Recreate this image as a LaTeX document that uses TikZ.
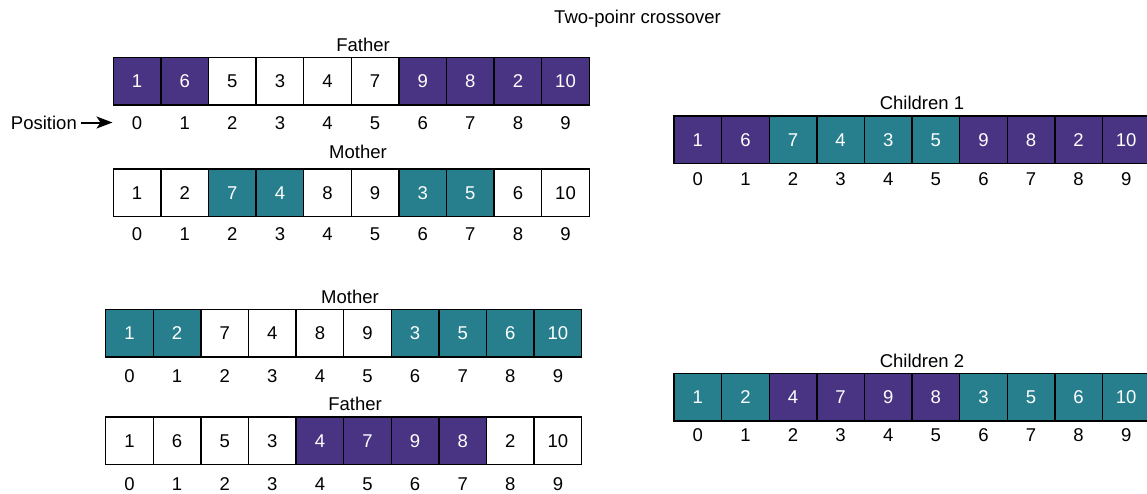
\documentclass[tikz,border=0pt]{standalone}
\usepackage{fontspec}
\setmainfont{Liberation Sans}
\usetikzlibrary{arrows.meta}

\definecolor{gpurple}{RGB}{72,52,130}
\definecolor{gteal}{RGB}{39,127,142}

\newcommand\genefont{\fontsize{18.5}{22}\selectfont}

\tikzset{
  txt/.style={inner sep=0pt, font=\genefont, text height=13.3pt, text depth=0pt},
  cell/.style={txt, draw=black, line width=1.4pt, minimum width=47.6pt, minimum height=47.6pt},
  P/.style={cell, fill=gpurple, text=white},
  T/.style={cell, fill=gteal, text=white},
  W/.style={cell, fill=white, text=black},
  idx/.style={txt},
  lbl/.style={txt},
  pointer/.style={line width=2pt, -{Stealth[length=16pt, width=12pt, inset=4pt]}},
}

% #1 name prefix, #2 left x, #3 top y, #4 value/style list, #5 y of the index row
\newcommand\chromosome[5]{%
  \foreach \v/\s [count=\k from 0] in {#4} {
    \node[\s] (#1\k) at ({#2+(\k+0.5)*47.6}, {#3+23.8}) {\v};
    \node[idx] (#1i\k) at ({#2+(\k+0.5)*47.6}, #5) {\k};
  }%
}

\begin{document}
\begin{tikzpicture}[x=1pt, y=-1pt]
  \useasboundingbox (0,0) rectangle (1147,493);
  \clip (0,0) rectangle (1147,493);

  \node[lbl] (title) at (637.5,17) {Two-poinr crossover};

  % first pair of parents
  \node[lbl] (lfa) at (363,45) {Father};
  \chromosome{fa}{113.3}{57.5}{1/P,6/P,5/W,3/W,4/W,7/W,9/P,8/P,2/P,10/P}{122.5}
  \node[lbl, anchor=east] (pos) at (77,122.5) {Position};
  \coordinate (posend) at (112.5,122.5);
  \draw[pointer, shorten <=3.5pt] (pos) -- (posend);

  \node[lbl] (lma) at (358,152) {Mother};
  \chromosome{ma}{113.3}{168.8}{1/W,2/W,7/T,4/T,8/W,9/W,3/T,5/T,6/W,10/W}{234}

  % second pair of parents
  \node[lbl] (lmb) at (350,297) {Mother};
  \chromosome{mb}{105.7}{309.5}{1/T,2/T,7/W,4/W,8/W,9/W,3/T,5/T,6/T,10/T}{375.5}

  \node[lbl] (lfb) at (355,404.3) {Father};
  \chromosome{fb}{105.7}{417}{1/W,6/W,5/W,3/W,4/P,7/P,9/P,8/P,2/W,10/W}{484}

  % offspring
  \node[lbl] (lc1) at (922,103.3) {Children 1};
  \chromosome{ca}{674}{116}{1/P,6/P,7/T,4/T,3/T,5/T,9/P,8/P,2/P,10/P}{178.5}

  \node[lbl] (lc2) at (922,360.7) {Children 2};
  \chromosome{cb}{674}{373.3}{1/T,2/T,4/P,7/P,9/P,8/P,3/T,5/T,6/T,10/T}{435}
\end{tikzpicture}
\end{document}
